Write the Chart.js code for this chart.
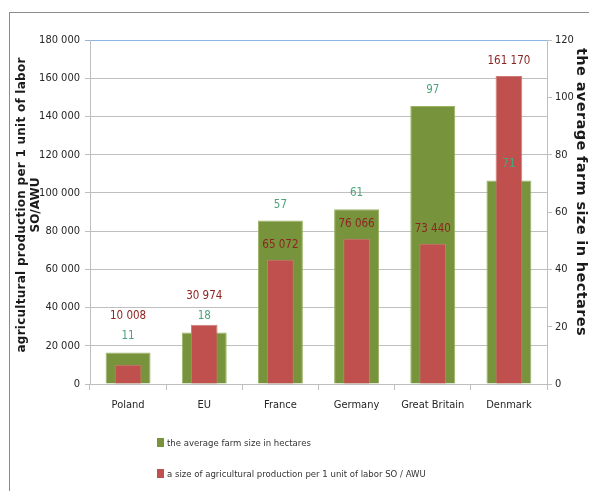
<!DOCTYPE html>
<html>
<head>
<meta charset="utf-8">
<script src="https://cdn.jsdelivr.net/npm/chart.js@4.4.0/dist/chart.umd.min.js"></script>
<style>
  body { margin: 0; background: #fff; }
  #wrap { position: relative; width: 589px; height: 491px; }
  #frame { position: absolute; left: 9px; top: 12px; width: 600px; height: 500px;
           border-top: 1px solid #8c8c8c; border-left: 1px solid #8c8c8c; }
  #userChart { position: absolute; left: 0; top: 0; }
  .legend { position: absolute; left: 157px; font: 9.5px 'DejaVu Sans Condensed', sans-serif; color: #333; }
  .legend span { display: inline-block; width: 7px; height: 9px; margin-right: 3px; vertical-align: -1px; }
</style>
</head>
<body>
<div id="wrap">
  <div id="frame"></div>
  <canvas id="userChart" width="589" height="491"></canvas>
  <div class="legend" style="top:437px"><span style="background:#77933C"></span>the average farm size in hectares</div>
  <div class="legend" style="top:468px"><span style="background:#C0504D"></span>a size of agricultural production per 1 unit of labor SO / AWU</div>
</div>
<script>
const countries = ['Poland', 'EU', 'France', 'Germany', 'Great Britain', 'Denmark'];
const farmSize = [11, 18, 57, 61, 97, 71];
const production = [10008, 30974, 65072, 76066, 73440, 161170];
const leftTicks = [0, 20000, 40000, 60000, 80000, 100000, 120000, 140000, 160000, 180000];
const rightTicks = [0, 20, 40, 60, 80, 100, 120];
const leftTitle = ['agricultural production per 1 unit of labor', 'SO/AWU'];
const rightTitle = 'the average farm size in hectares';

const narrow = "'DejaVu Sans Condensed', sans-serif";

function spaced(n) {
    return n.toString().replace(/\B(?=(\d{3})+(?!\d))/g, ' ');
}

// value labels above bars, red one pushed up if it hits the green one
const barLabels = {
    id: 'barLabels',
    afterDatasetsDraw(chart) {
        const ctx = chart.ctx;
        const green = chart.getDatasetMeta(0).data;
        const red = chart.getDatasetMeta(1).data;
        ctx.save();
        ctx.font = '11.5px ' + narrow;
        ctx.textAlign = 'center';
        ctx.textBaseline = 'middle';
        for (let i = 0; i < countries.length; i++) {
            const gy = green[i].y - 16;
            let ry = red[i].y - 15;
            if (Math.abs(ry - gy) < 17) ry = gy - 20;
            ctx.fillStyle = '#4BA57A';
            ctx.fillText(spaced(farmSize[i]), green[i].x, gy);
            ctx.fillStyle = '#8E2422';
            ctx.fillText(spaced(production[i]), red[i].x, ry);
        }
        ctx.restore();
    }
};

// rotated axis titles, stretched a bit to the reference length
function rotatedText(ctx, text, x, y, angle, length) {
    ctx.save();
    ctx.translate(x, y);
    ctx.rotate(angle);
    ctx.letterSpacing = '0px';
    const w = ctx.measureText(text).width;
    if (length && length > w) ctx.letterSpacing = ((length - w) / text.length).toFixed(2) + 'px';
    ctx.fillText(text, 0, 0);
    ctx.restore();
}

const axisTitles = {
    id: 'axisTitles',
    afterDraw(chart) {
        const ctx = chart.ctx;
        ctx.save();
        ctx.fillStyle = '#1a1a1a';
        ctx.textAlign = 'center';
        ctx.textBaseline = 'middle';
        ctx.font = 'bold 12px DejaVu Sans';
        rotatedText(ctx, leftTitle[0], 22, 205, -Math.PI / 2, 295);
        rotatedText(ctx, leftTitle[1], 36, 205, -Math.PI / 2, 0);
        ctx.font = 'bold 14.5px DejaVu Sans';
        rotatedText(ctx, rightTitle, 581, 192, Math.PI / 2, 288);
        ctx.restore();
    }
};

const ctx1 = document.getElementById('userChart').getContext('2d');
new Chart(ctx1, {
    type: 'bar',
    data: {
        labels: countries,
        datasets: [{
            label: 'the average farm size in hectares',
            data: farmSize,
            yAxisID: 'yRight',
            backgroundColor: '#77933C',
            borderColor: '#9bb366',
            borderWidth: 1,
            grouped: false,
            categoryPercentage: 1,
            barPercentage: 0.59,
            order: 2
        }, {
            label: 'a size of agricultural production per 1 unit of labor SO / AWU',
            data: production,
            yAxisID: 'yLeft',
            backgroundColor: '#C0504D',
            borderColor: '#d07a77',
            borderWidth: 1,
            grouped: false,
            categoryPercentage: 1,
            barPercentage: 0.35,
            order: 1
        }]
    },
    options: {
        responsive: false,
        animation: false,
        layout: { padding: { left: 0, right: 0, top: 40, bottom: 77 } },
        plugins: {
            legend: { display: false },
            tooltip: { enabled: false }
        },
        scales: {
            x: {
                afterFit(axis) { axis.height = 30; },
                grid: { offset: true, drawOnChartArea: false, tickLength: 6, color: '#bfbfbf' },
                border: { color: '#bfbfbf' },
                ticks: { color: '#262626', font: { family: narrow, size: 11 }, padding: 9, maxRotation: 0, minRotation: 0 }
            },
            yLeft: {
                position: 'left',
                min: 0,
                max: 180000,
                afterFit(axis) { axis.width = 90; },
                afterBuildTicks(axis) { axis.ticks = leftTicks.map(v => ({ value: v })); },
                grid: {
                    color: c => c.tick && c.tick.value === 180000 ? '#8eb4e3' : '#bfbfbf',
                    tickLength: 5
                },
                border: { color: '#bfbfbf' },
                ticks: { color: '#262626', font: { family: narrow, size: 11 }, padding: 5, callback: v => spaced(v) }
            },
            yRight: {
                position: 'right',
                min: 0,
                max: 120,
                afterFit(axis) { axis.width = 42; },
                afterBuildTicks(axis) { axis.ticks = rightTicks.map(v => ({ value: v })); },
                grid: { drawOnChartArea: false, tickLength: 5, color: '#bfbfbf' },
                border: { color: '#bfbfbf' },
                ticks: { color: '#262626', font: { family: narrow, size: 11 }, padding: 3 }
            }
        }
    },
    plugins: [barLabels, axisTitles]
});
</script>
</body>
</html>
